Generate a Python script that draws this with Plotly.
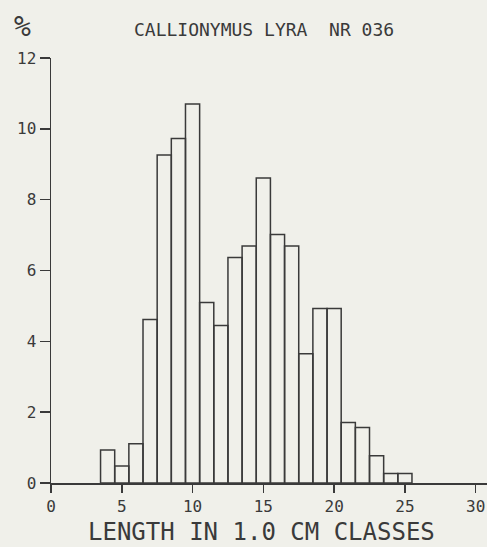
import plotly.graph_objects as go

lengths = list(range(4, 26))
percent = [0.93, 0.48, 1.11, 4.62, 9.26, 9.73, 10.70, 5.10, 4.45, 6.37, 6.69,
           8.61, 7.02, 6.69, 3.65, 4.93, 4.93, 1.71, 1.57, 0.77, 0.27, 0.27]
x_ticks = [0, 5, 10, 15, 20, 25, 30]
y_ticks = [0, 2, 4, 6, 8, 10, 12]

ink = "#3a3a3a"
paper = "#f0f0ea"
mono = "DejaVu Sans Mono"

W, H = 487, 547
L, T, B = 51, 58, 64

fig = go.Figure(go.Bar(
    x=lengths, y=percent, width=1.0,
    marker=dict(color="rgba(0,0,0,0)", line=dict(color=ink, width=1.5)),
))

fig.update_layout(
    width=W, height=H,
    margin=dict(l=L, r=0, t=T, b=B),
    paper_bgcolor=paper, plot_bgcolor=paper,
    showlegend=False,
    font=dict(family=mono, color=ink),
    xaxis=dict(range=[0, 30.8], tickvals=x_ticks, ticks="outside", ticklen=8,
               tickwidth=1.5, tickcolor=ink, showline=True, linecolor=ink,
               linewidth=1.5, showgrid=False, zeroline=False,
               tickfont=dict(size=16, family=mono, color=ink)),
    yaxis=dict(range=[0, 12], tickvals=y_ticks, ticks="outside", ticklen=10,
               tickwidth=1.5, tickcolor=ink, showline=True, linecolor=ink,
               linewidth=1.5, showgrid=False, zeroline=False,
               tickfont=dict(size=16, family=mono, color=ink)),
)

pw = W - L
ph = H - T - B


def ann(text, px, py, size):
    # px, py: page pixel coords of the text centre
    fig.add_annotation(text=text, xref="paper", yref="paper",
                       x=(px - L) / pw, y=(H - B - py) / ph,
                       xanchor="center", yanchor="middle", showarrow=False,
                       font=dict(size=size, family=mono, color=ink))


ann("CALLIONYMUS LYRA  NR 036", 264, 30, 18)
ann("%", 22, 27, 28)
ann("LENGTH IN 1.0 CM CLASSES", 261, 532, 24)

page_js = ("document.body.style.margin='0';"
           "document.body.style.background='" + paper + "';"
           "document.documentElement.style.overflow='hidden';")

fig.write_html("out.html", post_script=page_js,
               config={"displayModeBar": False, "staticPlot": True})
